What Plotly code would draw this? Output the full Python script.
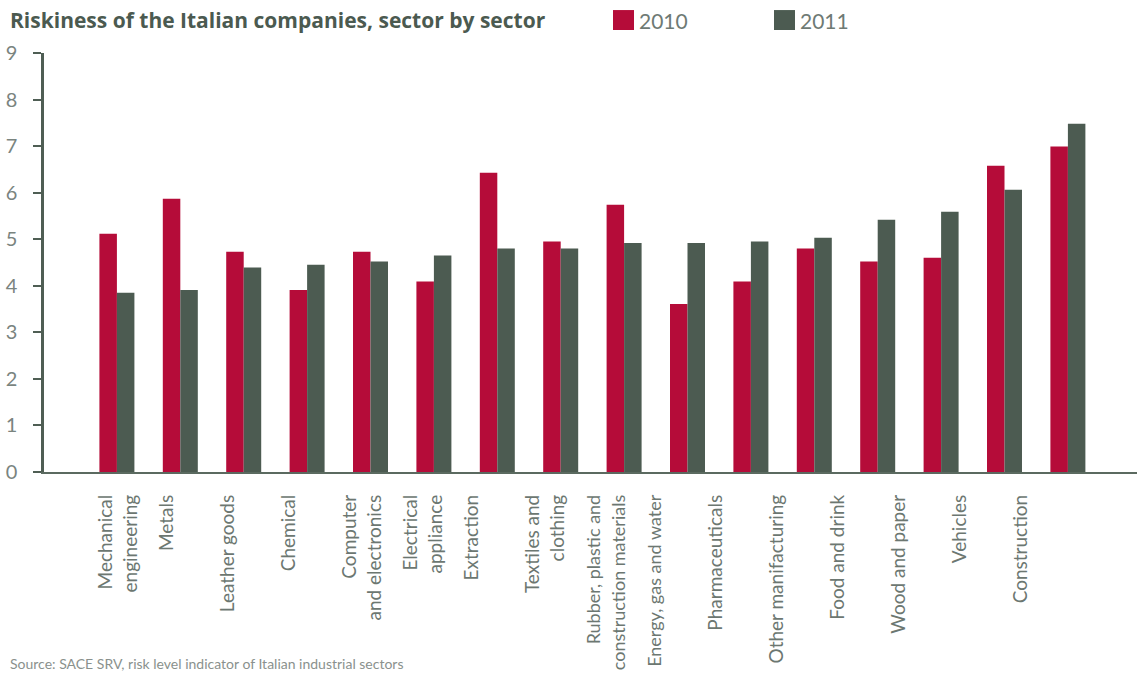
import plotly.graph_objects as go

# Sector risk indicator, 2010 vs 2011
sectors = [
    "Mechanical<br>engineering", "Metals", "Leather goods", "Chemical",
    "Computer<br>and electronics", "Electrical<br>appliance", "Extraction",
    "Textiles and<br>clothing", "Rubber, plastic and<br>construction materials",
    "Energy, gas and water", "Pharmaceuticals", "Other manifacturing",
    "Food and drink", "Wood and paper", "Vehicles", "Construction",
]
risk_2010 = [5.12, 5.87, 4.73, 3.91, 4.73, 4.09, 6.43, 4.95,
             5.74, 3.61, 4.09, 4.80, 4.52, 4.60, 6.58, 6.99]
risk_2011 = [3.85, 3.91, 4.39, 4.45, 4.52, 4.65, 4.80, 4.80,
             4.92, 4.92, 4.95, 5.03, 5.42, 5.59, 6.06, 7.48]
y_ticks = list(range(0, 10))

RED = "#b50c39"
GREEN = "#4c5b51"
AXIS = "#4f5e54"
LABEL = "#6c7771"
LABEL_SIZE = 19
LONG_LABEL_SIZE = 18   # longest names are set a little smaller to fit the page

W, H = 1137, 674
ML, MR, MT, MB = 44, 0, 53, 201.5
PW = W - ML - MR
PH = H - MT - MB


def px_x(p):
    return (p - ML) / PW


def px_y(p):
    return (H - MB - p) / PH


def tick_label(name):
    lines = name.split("<br>")
    if len(lines) == 1:
        lines.append(" ")  # blank second line keeps one-line names in step
    if max(len(s) for s in lines) > 20:
        lines = [f"<span style='font-size:{LONG_LABEL_SIZE}px'>{s}</span>"
                 for s in lines]
    return "<br>".join(lines)


pos = list(range(len(sectors)))

fig = go.Figure()
fig.add_trace(go.Bar(x=pos, y=risk_2010, name="2010", marker_color=RED,
                     marker_line_width=0))
fig.add_trace(go.Bar(x=pos, y=risk_2011, name="2011", marker_color=GREEN,
                     marker_line_width=0))
# carrier for the sector label axis
fig.add_trace(go.Scatter(x=pos, y=[None] * len(pos), xaxis="x2",
                         showlegend=False, hoverinfo="skip", mode="markers"))

fig.update_layout(
    width=W, height=H,
    margin=dict(l=ML, r=MR, t=MT, b=MB, pad=0, autoexpand=False),
    paper_bgcolor="white", plot_bgcolor="white",
    showlegend=False,
    barmode="group", bargap=0.448, bargroupgap=0,
    font=dict(family="Lato", color=LABEL),
    xaxis=dict(
        range=[-1.15, 16.09], showticklabels=False, ticks="",
        showgrid=False, zeroline=False, automargin=False,
        showline=True, linecolor="#5b6a60", linewidth=2,
    ),
    xaxis2=dict(
        overlaying="x", anchor="y", side="bottom",
        range=[-1.221, 16.697], automargin=False,
        tickmode="array", tickvals=pos,
        ticktext=[tick_label(s) for s in sectors],
        tickangle=-90, ticks="", showgrid=False, zeroline=False,
        showline=False, ticklabelstandoff=18,
        tickfont=dict(family="Lato", size=LABEL_SIZE, color=LABEL),
    ),
    yaxis=dict(
        range=[0, 9], tickvals=y_ticks, ticks="outside", ticklen=8,
        tickwidth=2, tickcolor=AXIS, showline=True, linecolor=AXIS,
        linewidth=2.5, showgrid=False, zeroline=False, automargin=False,
        ticklabelstandoff=12,
        tickfont=dict(family="Lato", size=20, color="#7a847f"),
    ),
)

# title
fig.add_annotation(
    text="<b>Riskiness of the Italian companies, sector by sector</b>",
    xref="paper", yref="paper", x=px_x(8), y=px_y(20),
    xanchor="left", yanchor="middle", showarrow=False,
    font=dict(family="Open Sans", size=21, color="#4b5a50"),
)

# legend swatches and labels
for name, color, x0 in [("2010", RED, 613), ("2011", GREEN, 774)]:
    fig.add_shape(type="rect", xref="paper", yref="paper",
                  x0=px_x(x0), x1=px_x(x0 + 21), y0=px_y(30), y1=px_y(10),
                  fillcolor=color, line_width=0)
    fig.add_annotation(text=name, xref="paper", yref="paper",
                       x=px_x(x0 + 24), y=px_y(20), xanchor="left",
                       yanchor="middle", showarrow=False,
                       font=dict(family="Lato", size=21, color="#6e7a74"))

# source note
fig.add_annotation(
    text="Source: SACE SRV, risk level indicator of Italian industrial sectors",
    xref="paper", yref="paper", x=px_x(8), y=px_y(664),
    xanchor="left", yanchor="middle", showarrow=False,
    font=dict(family="Lato", size=14, color="#8a918d"),
)

fig.write_html("out.html")
